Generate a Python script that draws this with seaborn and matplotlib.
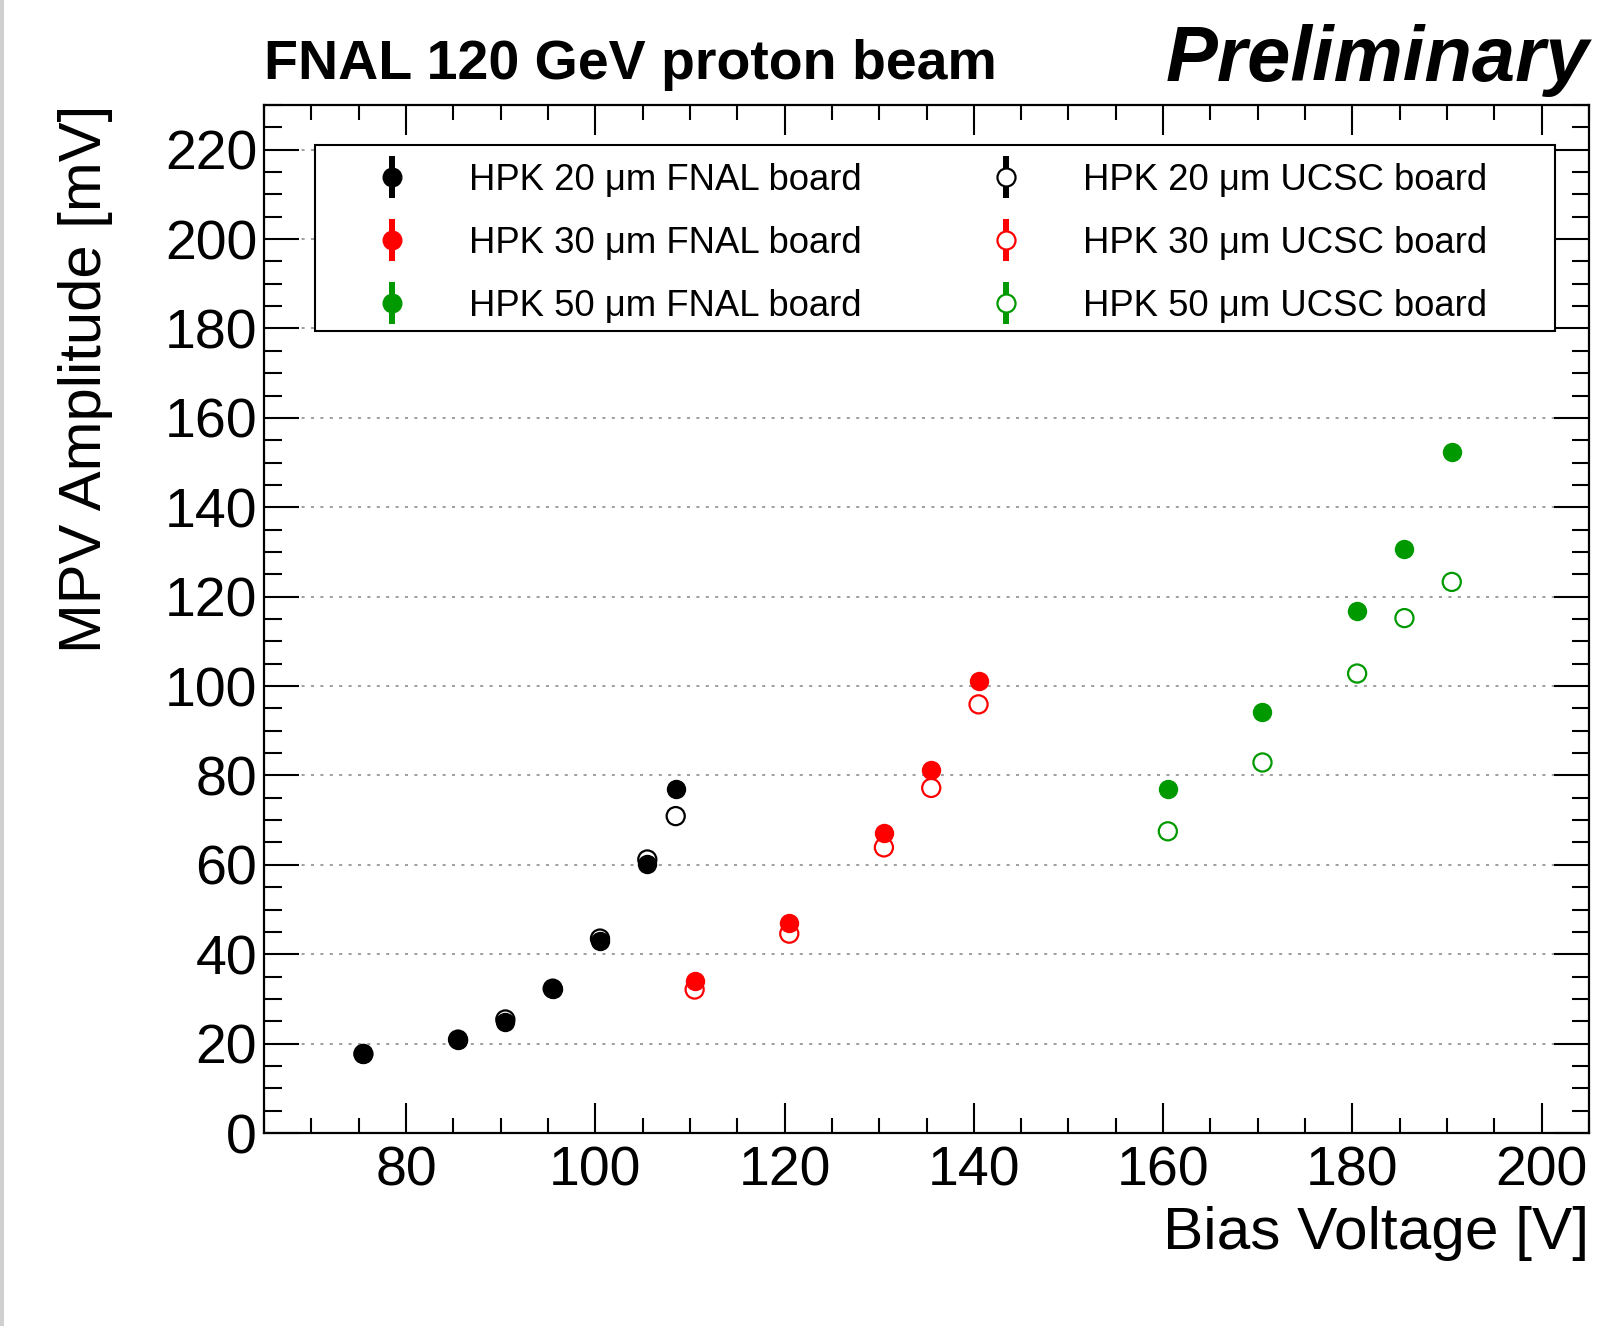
import matplotlib
matplotlib.use("Agg")
import matplotlib.pyplot as plt
from matplotlib.patches import Rectangle
from matplotlib.legend_handler import HandlerErrorbar
from matplotlib.ticker import MultipleLocator
import seaborn as sns
import pandas as pd

# ---------------- data ----------------
voltage_20 = [75.5, 85.5, 90.5, 95.5, 100.5, 105.5, 108.5]
fnal_20 = [17.7, 20.9, 24.8, 32.2, 42.9, 60.1, 76.9]
ucsc_20 = [17.7, 20.9, 25.4, 32.3, 43.5, 61.2, 70.9]

voltage_30 = [110.5, 120.5, 130.5, 135.5, 140.5]
fnal_30 = [34.1, 47.0, 67.2, 81.2, 101.1]
ucsc_30 = [32.1, 44.6, 63.9, 77.2, 95.9]

voltage_50 = [160.5, 170.5, 180.5, 185.5, 190.5]
fnal_50 = [77.0, 94.3, 116.8, 130.7, 152.4]
ucsc_50 = [67.5, 82.9, 102.8, 115.2, 123.3]

labels_fnal = ["HPK 20 \u03bcm FNAL board", "HPK 30 \u03bcm FNAL board", "HPK 50 \u03bcm FNAL board"]
labels_ucsc = ["HPK 20 \u03bcm UCSC board", "HPK 30 \u03bcm UCSC board", "HPK 50 \u03bcm UCSC board"]
colors = ["#000000", "#ff0000", "#009900"]

title_text = "FNAL 120 GeV proton beam"
prelim_text = "Preliminary"
xlabel_text = "Bias Voltage [V]"
ylabel_text = "MPV Amplitude [mV]"

# ---------------- style ----------------
sns.set_style("ticks")
plt.rcParams["font.family"] = ["Liberation Sans", "DejaVu Sans"]
plt.rcParams["text.color"] = "black"
plt.rcParams["axes.labelcolor"] = "black"
plt.rcParams["xtick.color"] = "black"
plt.rcParams["ytick.color"] = "black"

W, H = 1604, 1326
fig = plt.figure(figsize=(W / 100, H / 100), dpi=100)
fig.patch.set_facecolor("white")

def fx(px):
    return px / W

def fy(py):
    return 1 - py / H

ax_l, ax_r, ax_t, ax_b = 264, 1589, 105, 1133
ax = fig.add_axes([fx(ax_l), fy(ax_b), fx(ax_r - ax_l), (ax_b - ax_t) / H])
ax.set_facecolor("white")

groups = [
    (voltage_20, fnal_20, ucsc_20),
    (voltage_30, fnal_30, ucsc_30),
    (voltage_50, fnal_50, ucsc_50),
]

for (v, f, u), c in zip(groups, colors):
    df = pd.DataFrame({"V": v, "fnal": f, "ucsc": u})
    sns.scatterplot(data=df, x="V", y="fnal", ax=ax, color=c, marker="o",
                    s=195, linewidth=0, legend=False, zorder=6)
for (v, f, u), c in zip(groups, colors):
    df = pd.DataFrame({"V": v, "fnal": f, "ucsc": u})
    sns.scatterplot(data=df, x="V", y="ucsc", ax=ax, marker="o",
                    s=170, facecolors="none", edgecolors=c, linewidth=1.6,
                    legend=False, zorder=7)

ax.set_xlim(65, 205)
ax.set_ylim(0, 230)

# ticks
ax.xaxis.set_major_locator(MultipleLocator(20))
ax.xaxis.set_minor_locator(MultipleLocator(5))
ax.yaxis.set_major_locator(MultipleLocator(20))
ax.yaxis.set_minor_locator(MultipleLocator(5))
ax.tick_params(axis="both", which="both", direction="in", top=True, right=True,
               width=1.5, color="black", labelcolor="black")
ax.tick_params(axis="x", which="major", length=21.6, labelsize=40, pad=9)
ax.tick_params(axis="x", which="minor", length=10.8)
ax.tick_params(axis="y", which="major", length=25, labelsize=40, pad=5)
ax.tick_params(axis="y", which="minor", length=12.6)
ax.set_yticks([0, 20, 40, 60, 80, 100, 120, 140, 160, 180, 200, 220])
for sp in ax.spines.values():
    sp.set_linewidth(1.6)
    sp.set_color("black")

ax.grid(axis="y", which="major", color="#a0a0a0", linewidth=1.44,
        linestyle=(0, (1.5, 3.2)))
ax.set_axisbelow(True)

ax.set_xlabel("")
ax.set_ylabel("")
fig.text(fx(1589), fy(1249), xlabel_text, fontsize=43.5, ha="right", va="baseline",
         color="black")
fig.text(fx(101), fy(105), ylabel_text, fontsize=43, ha="right", va="baseline",
         rotation=90, rotation_mode="anchor", color="black")
fig.text(fx(264), fy(79), title_text, fontsize=40, fontweight="bold",
         ha="left", va="baseline", color="black")
fig.text(fx(1589), fy(81), prelim_text, fontsize=56, fontweight="bold",
         fontstyle="italic", ha="right", va="baseline", color="black")

# legend frame
lx0, lx1, ly0, ly1 = 315, 1555, 145, 331
ax.add_patch(Rectangle(((lx0 - ax_l) / (ax_r - ax_l), (ax_b - ly1) / (ax_b - ax_t)),
                       (lx1 - lx0) / (ax_r - ax_l), (ly1 - ly0) / (ax_b - ax_t),
                       transform=ax.transAxes, facecolor="white", edgecolor="black",
                       linewidth=1.5, zorder=8))

handles = []
labels = []
for lab, c in zip(labels_fnal, colors):
    h = ax.errorbar([], [], yerr=[], fmt="o", color=c, mfc=c, mec=c, ms=13.4,
                    elinewidth=4.3, capsize=0, label=lab)
    handles.append(h)
    labels.append(lab)
for lab, c in zip(labels_ucsc, colors):
    h = ax.errorbar([], [], yerr=[], fmt="o", color=c, mfc="white", mec=c, ms=13.0,
                    mew=1.6, elinewidth=4.3, capsize=0, label=lab)
    handles.append(h)
    labels.append(lab)

leg = ax.legend(handles, labels, ncol=2, frameon=False, fontsize=26.3,
                loc="upper left", bbox_to_anchor=(fx(333), fy(163)),
                bbox_transform=fig.transFigure, borderpad=0, borderaxespad=0,
                handlelength=3.23, handletextpad=0.48, columnspacing=2.36,
                labelspacing=0.76,
                handler_map={type(handles[0]): HandlerErrorbar(yerr_size=0.58)})
for t in leg.get_texts():
    t.set_color("black")
leg.set_zorder(9)

# thin gray strip on the left edge of the canvas
fig.add_artist(Rectangle((0, 0), 4 / W, 1, transform=fig.transFigure,
                         facecolor="#d0d0d0", edgecolor="none"))

fig.savefig("out.png", dpi=100, facecolor="white")
